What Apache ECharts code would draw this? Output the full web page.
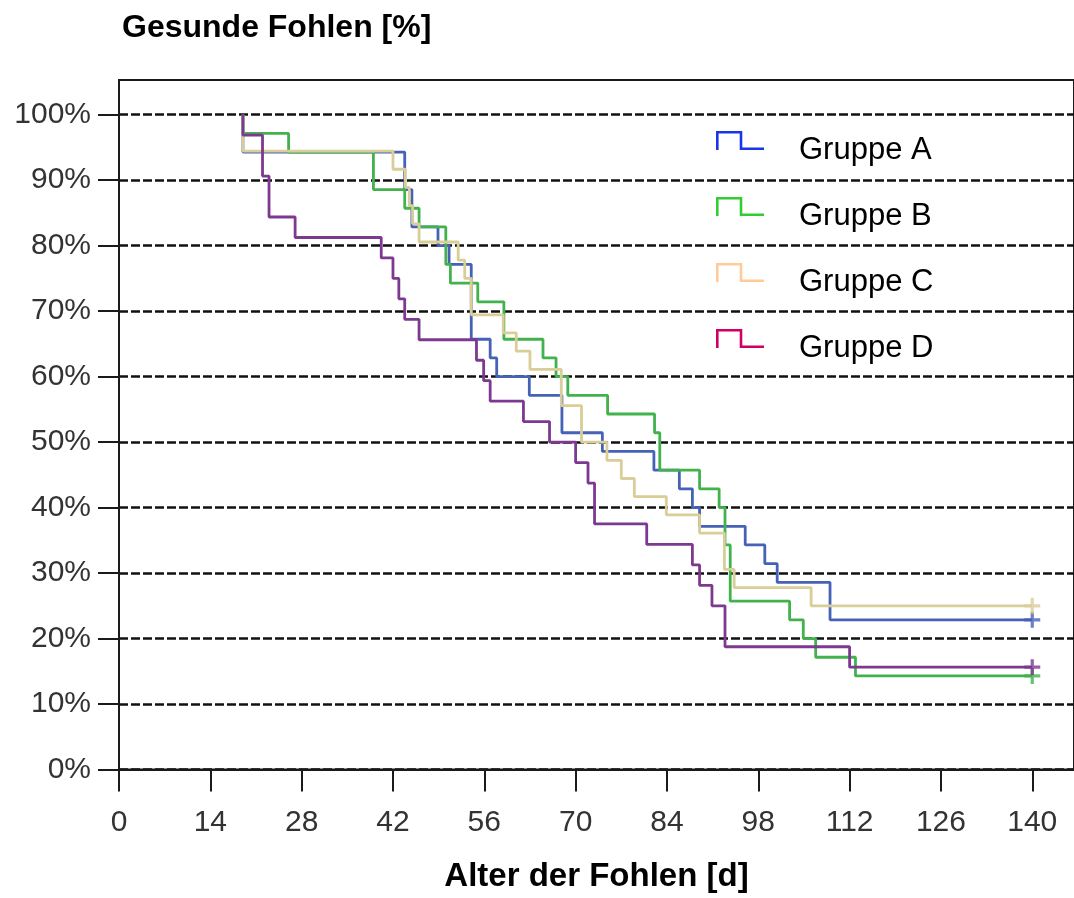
<!DOCTYPE html>
<html>
<head>
<meta charset="utf-8">
<title>Gesunde Fohlen</title>
<script src="https://cdn.jsdelivr.net/npm/echarts@6/dist/echarts.min.js"></script>
<style>
  html, body { margin: 0; padding: 0; background: #ffffff; }
  #chart { width: 1074px; height: 898px; }
</style>
</head>
<body>
<div id="chart"></div>
<script>
// Survival steps per group: [Alter in Tagen, Anteil gesunder Fohlen in %]
const groupNames = ['Gruppe A', 'Gruppe B', 'Gruppe C', 'Gruppe D'];

const gruppeA = [
  [19, 100], [19, 94.29], [43.8, 88.57], [44.9, 82.86], [48.9, 80], [50.6, 77.14],
  [54, 65.71], [56.9, 62.86], [57.9, 60], [62.9, 57.14], [67.9, 51.43], [74.1, 48.57],
  [82, 45.71], [85.9, 42.86], [87.9, 40], [89, 37.14], [96, 34.29], [99, 31.43],
  [100.9, 28.57], [109, 22.86], [140, 22.86]
];

const gruppeB = [
  [19, 100], [19, 97.14], [26, 94.29], [39, 88.57], [43.8, 85.71], [46, 82.86],
  [50.1, 77.14], [50.8, 74.29], [55, 71.43], [59, 65.71], [65, 62.86], [67, 60],
  [68.8, 57.14], [74.9, 54.29], [82.1, 51.43], [82.9, 45.71], [89, 42.86], [92, 40],
  [92.9, 34.29], [93.7, 25.71], [102.8, 22.86], [104.9, 20], [106.8, 17.14],
  [112.9, 14.29], [140, 14.29]
];

const gruppeC = [
  [19, 100], [19, 94.44], [42, 91.67], [43.9, 88.89], [44.5, 86.11], [45, 83.33],
  [46, 80.56], [52, 77.78], [53, 75], [54, 69.44], [58.9, 66.67], [60.9, 63.89],
  [63, 61.11], [67.8, 55.56], [70.9, 50], [74.8, 47.22], [77, 44.44], [79, 41.67],
  [83.9, 38.89], [89, 36.11], [92.8, 30.56], [94.3, 27.78], [106.1, 25], [140, 25]
];

const gruppeD = [
  [19, 100], [19, 96.88], [22, 90.63], [23, 84.38], [27, 81.25], [40.2, 78.13],
  [42, 75], [42.9, 71.88], [43.8, 68.75], [46, 65.63], [54.8, 62.5], [55.9, 59.38],
  [56.9, 56.25], [62, 53.13], [66, 50], [70, 46.88], [71.9, 43.75], [72.9, 37.5],
  [80.9, 34.38], [87.9, 31.25], [89, 28.13], [90.9, 25], [92.9, 18.75],
  [112, 15.63], [140, 15.63]
];

const xTicks = [0, 14, 28, 42, 56, 70, 84, 98, 112, 126, 140];
const yTicks = [0, 10, 20, 30, 40, 50, 60, 70, 80, 90, 100];

const groups = [gruppeA, gruppeB, gruppeC, gruppeD];
const lineColors = ['#4662b6', '#42b24d', '#d9cd98', '#7d3890'];
const legendColors = ['#1a35e6', '#33cc33', '#ffcc99', '#cc0066'];

const fontFamily = '"Liberation Sans", Arial, sans-serif';

// step glyph used as legend icon (filled outline of a 2.6 unit wide stroke);
// the tiny last triangle only extends the bounding box so the glyph sits in the upper half
const stepIcon = 'path://M0,19 L0,0 L26.3,0 L26.3,16.4 L48,16.4 L48,19 L23.7,19 L23.7,2.6 L2.6,2.6 L2.6,19 Z ' +
                 'M47.99,38.99 L48,38.99 L48,39 Z';
// censoring mark
const plusIcon = 'path://M-1.6,-8 L1.6,-8 L1.6,-1.6 L8,-1.6 L8,1.6 L1.6,1.6 L1.6,8 L-1.6,8 L-1.6,1.6 L-8,1.6 L-8,-1.6 L-1.6,-1.6 Z';

const series = [];
groups.forEach(function (g, i) {
  series.push({
    name: groupNames[i],
    type: 'line',
    step: 'end',
    data: g,
    symbol: 'none',
    lineStyle: { color: lineColors[i], width: 2.8 },
    itemStyle: { color: lineColors[i] },
    z: 3 + i
  });
  series.push({
    name: groupNames[i],
    type: 'scatter',
    data: [g[g.length - 1]],
    symbol: plusIcon,
    symbolSize: 16,
    itemStyle: { color: lineColors[i] },
    z: 3 + i
  });
});

const chart = echarts.init(document.getElementById('chart'), null, { renderer: 'canvas' });

chart.setOption({
  animation: false,
  backgroundColor: '#ffffff',
  grid: {
    left: 119,
    right: -2,
    top: 80,
    bottom: 123,
    show: true,
    borderColor: '#1a1a1a',
    borderWidth: 2,
    backgroundColor: 'transparent'
  },
  legend: {
    orient: 'vertical',
    left: 716,
    top: 131,
    padding: 0,
    itemGap: 27,
    itemWidth: 48,
    itemHeight: 39,
    icon: stepIcon,
    itemStyle: { borderWidth: 0 },
    textStyle: {
      fontFamily: fontFamily,
      fontSize: 31,
      color: '#000000',
      lineHeight: 30,
      padding: [0, 0, 0, 30]
    },
    data: groupNames.map(function (n, i) {
      return { name: n, itemStyle: { color: legendColors[i] } };
    })
  },
  xAxis: {
    type: 'value',
    min: 0,
    max: 146.4,
    interval: 14,
    name: 'Alter der Fohlen [d]',
    nameLocation: 'middle',
    nameGap: 107,
    nameTextStyle: {
      fontFamily: fontFamily,
      fontSize: 33,
      fontWeight: 'bold',
      color: '#000000',
      verticalAlign: 'middle'
    },
    axisLine: { show: true, lineStyle: { color: '#1a1a1a', width: 2 } },
    axisTick: {
      show: true,
      inside: false,
      length: 22,
      customValues: xTicks,
      lineStyle: { color: '#1a1a1a', width: 2 }
    },
    axisLabel: {
      customValues: xTicks,
      margin: 38,
      fontFamily: fontFamily,
      fontSize: 30,
      color: '#333333'
    },
    splitLine: { show: false }
  },
  yAxis: {
    type: 'value',
    min: 0,
    max: 105.3,
    interval: 10,
    name: 'Gesunde Fohlen [%]',
    nameLocation: 'end',
    nameGap: 52,
    nameTextStyle: {
      fontFamily: fontFamily,
      fontSize: 32,
      fontWeight: 'bold',
      color: '#000000',
      align: 'left',
      verticalAlign: 'middle',
      padding: [0, 0, 0, 3]
    },
    axisLine: { show: true, lineStyle: { color: '#1a1a1a', width: 2 } },
    axisTick: {
      show: true,
      inside: false,
      length: 21,
      customValues: yTicks,
      lineStyle: { color: '#1a1a1a', width: 2 }
    },
    axisLabel: {
      customValues: yTicks,
      margin: 28,
      fontFamily: fontFamily,
      fontSize: 30,
      color: '#333333',
      formatter: function (v) { return v + '%'; }
    },
    splitLine: {
      show: true,
      lineStyle: { color: '#111111', width: 2.5, type: [9, 3] }
    }
  },
  series: series
});
</script>
</body>
</html>
